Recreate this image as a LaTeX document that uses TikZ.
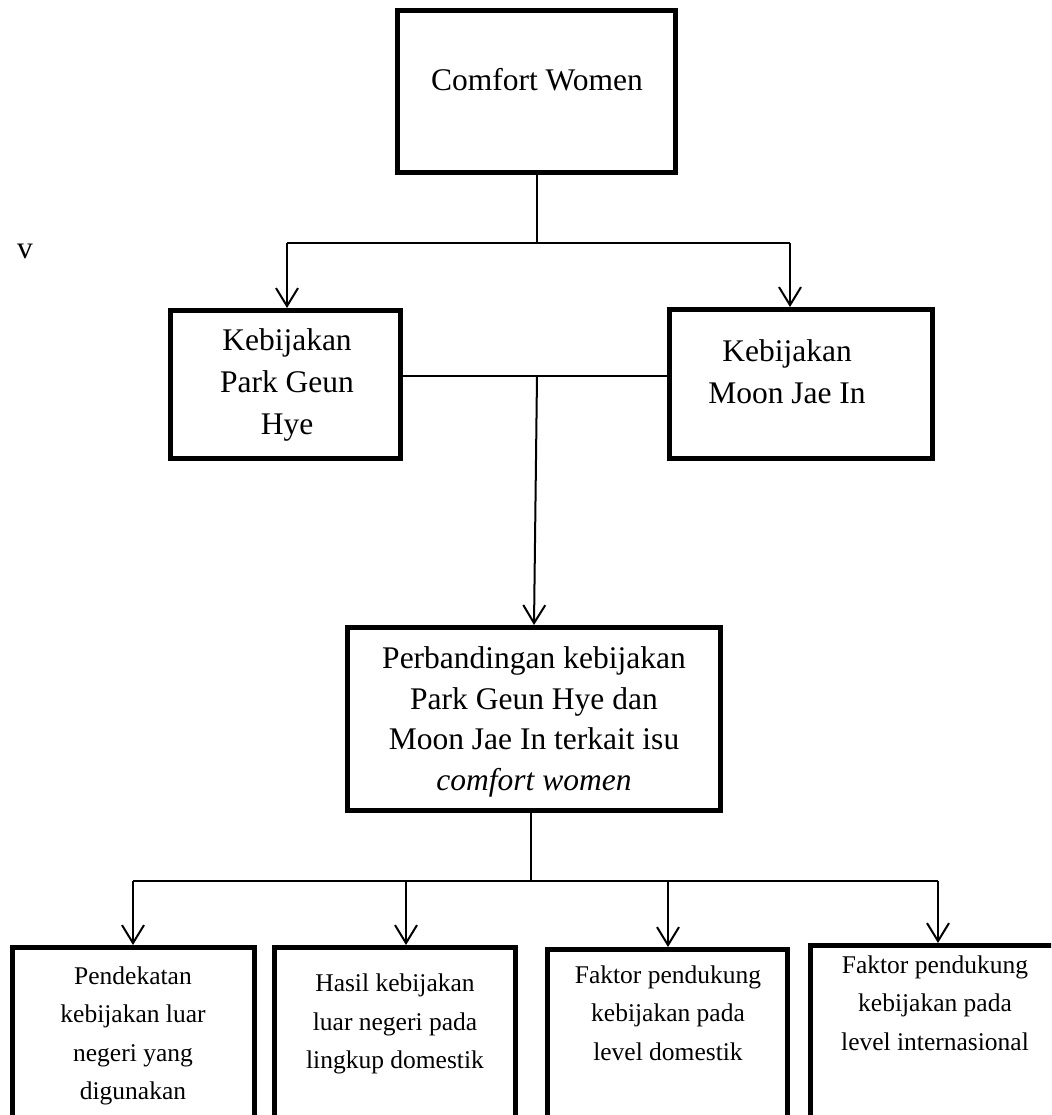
\documentclass[tikz,border=0pt]{standalone}
\usepackage{fontspec}
\setmainfont{Liberation Serif}
\usetikzlibrary{arrows.meta}
\begin{document}
\begin{tikzpicture}[x=1pt,y=-1pt,
  box/.style={draw, line width=5pt, inner sep=0pt},
  conn/.style={line width=2pt},
  arr/.style={conn, -{Straight Barb[length=18pt,width=22pt,line width=2pt]}},
  big/.style={font=\fontsize{31.5}{42}\selectfont, align=center, inner sep=0pt},
  bigc/.style={font=\fontsize{31.5}{40.5}\selectfont, align=center, inner sep=0pt},
  small/.style={font=\fontsize{25.5}{38.5}\selectfont, align=center, inner sep=0pt}]
\useasboundingbox (0,0) rectangle (1051,1115);
\clip (0,0) rectangle (1051,1115);
% boxes
\node[box, minimum width=278pt, minimum height=162pt] (top) at (536.5,91.5) {};
\node[box, minimum width=230pt, minimum height=148pt] (park) at (285.5,384.5) {};
\node[box, minimum width=263pt, minimum height=149pt] (moon) at (801,384) {};
\node[box, minimum width=373pt, minimum height=183pt] (cent) at (534,719) {};
\node[box, minimum width=242pt, minimum height=190pt] (b1) at (133.5,1042.5) {};
\node[box, minimum width=241pt, minimum height=190pt] (b2) at (395,1042.5) {};
\node[box, minimum width=240pt, minimum height=188pt] (b3) at (667.5,1043.5) {};
\node[box, minimum width=262pt, minimum height=192pt] (b4) at (941.5,1041.5) {};
% texts
\node[big] (tcw) at (537,80) {Comfort Women};
\node[big] (tv) at (25,251) {v};
\node[big] (tpark) at (287,385) {Kebijakan\\Park Geun\\Hye};
\node[big] (tmoon) at (787,372) {Kebijakan\\Moon Jae In};
\node[bigc] (tcent) at (534,722) {Perbandingan kebijakan\\Park Geun Hye dan\\Moon Jae In terkait isu\\\textit{comfort women}};
\node[small] (t1) at (133,1036) {Pendekatan\\kebijakan luar\\negeri yang\\digunakan};
\node[small] (t2) at (395,1024) {Hasil kebijakan\\luar negeri pada\\lingkup domestik};
\node[small] (t3) at (668,1013) {Faktor pendukung\\kebijakan pada\\level domestik};
\node[small] (t4) at (935,1003) {Faktor pendukung\\kebijakan pada\\level internasional};
% junctions
\coordinate (j1) at (537,243);
\coordinate (jl) at (287,243);
\coordinate (jr) at (790,243);
\coordinate (j2) at (537,376);
\coordinate (j3) at (531,881);
\coordinate (k1) at (133,881);
\coordinate (k2) at (406,881);
\coordinate (k3) at (668,881);
\coordinate (k4) at (938,881);
% connectors
\draw[conn] (top.south -| j1) -- (j1);
\draw[conn] (jl) -- (jr);
\draw[arr] (jl) -- (jl |- park.north);
\draw[arr] (jr) -- (jr |- moon.north);
\draw[conn] (park.east |- j2) -- (moon.west |- j2);
\draw[arr] (j2) -- (cent.north);
\draw[conn] (j3 |- cent.south) -- (j3);
\draw[conn] (k1) -- (k4);
\draw[arr] (k1) -- (k1 |- b1.north);
\draw[arr] (k2) -- (k2 |- b2.north);
\draw[arr] (k3) -- (k3 |- b3.north);
\draw[arr] (k4) -- (k4 |- b4.north);
\end{tikzpicture}
\end{document}
